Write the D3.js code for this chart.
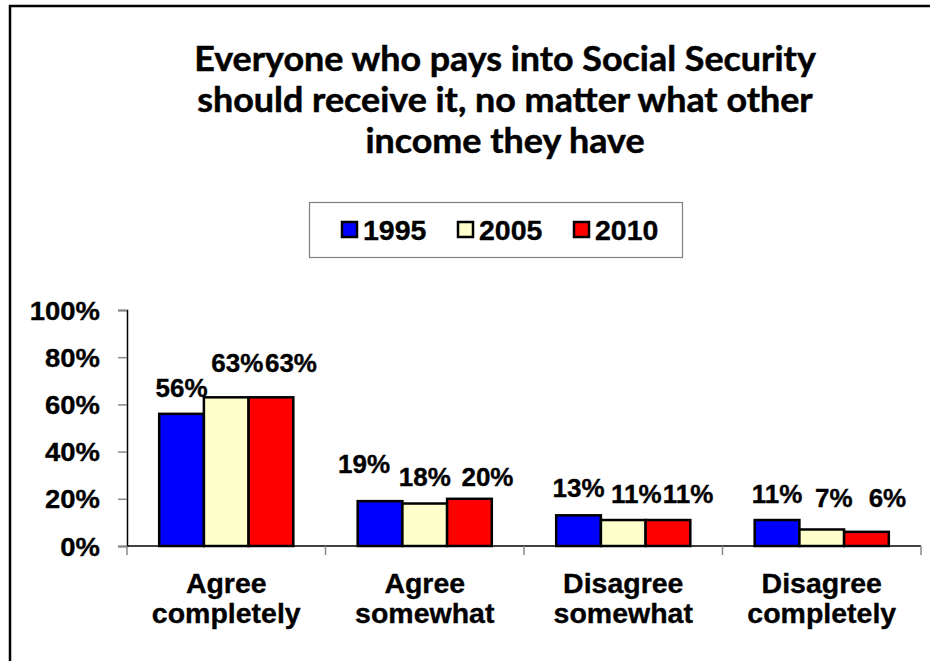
<!DOCTYPE html>
<html>
<head>
<meta charset="utf-8">
<script src="https://cdn.jsdelivr.net/npm/d3@7"></script>
<style>
  html, body { margin: 0; padding: 0; background: #fff; }
  svg { display: block; }
  text { font-family: "Liberation Sans", Arial, sans-serif; font-weight: bold; fill: #000; stroke: #000; stroke-width: 0.35px; }
  .title { font-family: Lato, "Open Sans", sans-serif; font-weight: bold; stroke-width: 0.5px; }
</style>
</head>
<body>
<svg id="chart" width="930" height="661"></svg>
<script>
// Survey answers, share of respondents by year
const categories = [["Agree", "completely"], ["Agree", "somewhat"], ["Disagree", "somewhat"], ["Disagree", "completely"]];
const years = ["1995", "2005", "2010"];
const values1995 = [56, 19, 13, 11];
const values2005 = [63, 18, 11, 7];
const values2010 = [63, 20, 11, 6];
const yTicks = [0, 20, 40, 60, 80, 100];
const titleLines = ["Everyone who pays into Social Security", "should receive it, no matter what other", "income they have"];

const colors = ["#0000ff", "#ffffcc", "#ff0000"];
const seriesValues = [values1995, values2005, values2010];

// Text on this slide is drawn slightly wide
const STRETCH = 1.055;

// Per-label nudges [dx, dy] that keep crowded value labels apart
const labelNudge = [
  [[0, 1], [11, -7], [20, -7]],
  [[-16, -10], [0, 0], [18, 5]],
  [[0, 0], [13, 1], [20, 1]],
  [[0, 1], [12, -4], [21, -7]]
];

const svg = d3.select("#chart");

// Wide text helper: anchors at (x, y) and stretches horizontally
function wideText(parent, x, y, cls) {
  return parent.append("text")
    .attr("class", cls || null)
    .attr("transform", `translate(${x},${y}) scale(${STRETCH},1)`);
}

// Outer frame
svg.append("rect")
  .attr("x", 10).attr("y", 6).attr("width", 960).attr("height", 700)
  .attr("fill", "none").attr("stroke", "#000").attr("stroke-width", 2.5);

// Title
const title = wideText(svg, 505, 71, "title")
  .attr("text-anchor", "middle").style("font-size", "34px");
titleLines.forEach((line, i) => {
  title.append("tspan").attr("x", 0).attr("y", i * 41).text(line);
});

// Legend
svg.append("rect")
  .attr("x", 309.5).attr("y", 202.5).attr("width", 373).attr("height", 55)
  .attr("fill", "#fff").attr("stroke", "#808080").attr("stroke-width", 1.2);
const legendItem = svg.selectAll("g.legend").data(years).join("g")
  .attr("class", "legend")
  .attr("transform", (d, i) => `translate(${342 + i * 116},222)`);
legendItem.append("rect")
  .attr("width", 15).attr("height", 15)
  .attr("fill", (d, i) => colors[i]).attr("stroke", "#000").attr("stroke-width", 2.5);
legendItem.each(function(d) {
  wideText(d3.select(this), 21, 18).style("font-size", "27px").text(d);
});

// Scales
const plot = { left: 127, right: 921, top: 310, bottom: 546 };
const x0 = d3.scaleBand()
  .domain(d3.range(categories.length))
  .range([plot.left, plot.right])
  .paddingInner(0).paddingOuter(0);
const x1 = d3.scaleBand()
  .domain(d3.range(years.length))
  .range([0, x0.bandwidth()])
  .paddingInner(0).paddingOuter(0.72);
const y = d3.scaleLinear().domain([0, 100]).range([plot.bottom, plot.top]);

// Y axis
const yAxis = d3.axisLeft(y).tickValues(yTicks).tickFormat(d => d + "%").tickSize(9).tickPadding(18);
const gy = svg.append("g").attr("transform", `translate(${plot.left},0)`).call(yAxis);
gy.select(".domain").attr("stroke", "#000").attr("stroke-width", 1.5);
gy.selectAll(".tick line").attr("stroke", "#888").attr("stroke-width", 1.5);
gy.selectAll(".tick text")
  .style("font-size", "26px")
  .attr("font-family", null).attr("fill", "#000")
  .attr("x", null).attr("dy", null)
  .attr("transform", `translate(-27,9) scale(${STRETCH},1)`);

// X axis: baseline and category separators
const xAxisLine = svg.append("g");
xAxisLine.append("line")
  .attr("x1", plot.left).attr("x2", plot.right)
  .attr("y1", plot.bottom).attr("y2", plot.bottom)
  .attr("stroke", "#000").attr("stroke-width", 1.5);
xAxisLine.selectAll("line.sep")
  .data(d3.range(categories.length + 1))
  .join("line").attr("class", "sep")
  .attr("x1", i => i < categories.length ? x0(i) : plot.right)
  .attr("x2", i => i < categories.length ? x0(i) : plot.right)
  .attr("y1", plot.bottom).attr("y2", plot.bottom + 9)
  .attr("stroke", "#888").attr("stroke-width", 1.5);

// Category labels
categories.forEach((lines, i) => {
  const t = wideText(svg, x0(i) + x0.bandwidth() / 2, 593)
    .attr("text-anchor", "middle").style("font-size", "27px");
  lines.forEach((ln, j) => {
    t.append("tspan").attr("x", 0).attr("y", j * 30).text(ln);
  });
});

// Bars and value labels
const groups = svg.selectAll("g.cat-group").data(categories).join("g")
  .attr("class", "cat-group")
  .attr("transform", (d, i) => `translate(${x0(i)},0)`);

groups.each(function(c, ci) {
  const g = d3.select(this);
  const rows = years.map((yr, si) => ({ si, v: seriesValues[si][ci] }));
  g.selectAll("rect").data(rows).join("rect")
    .attr("x", d => x1(d.si))
    .attr("y", d => y(d.v))
    .attr("width", x1.bandwidth())
    .attr("height", d => y(0) - y(d.v))
    .attr("fill", d => colors[d.si])
    .attr("stroke", "#000").attr("stroke-width", 2.5);
  g.selectAll("text.val").data(rows).join("text")
    .attr("class", "val")
    .attr("text-anchor", "middle")
    .style("font-size", "26px")
    .attr("x", d => x1(d.si) + x1.bandwidth() / 2 + labelNudge[ci][d.si][0])
    .attr("y", d => y(d.v) - 18 + labelNudge[ci][d.si][1])
    .text(d => d.v + "%");
});
</script>
</body>
</html>
